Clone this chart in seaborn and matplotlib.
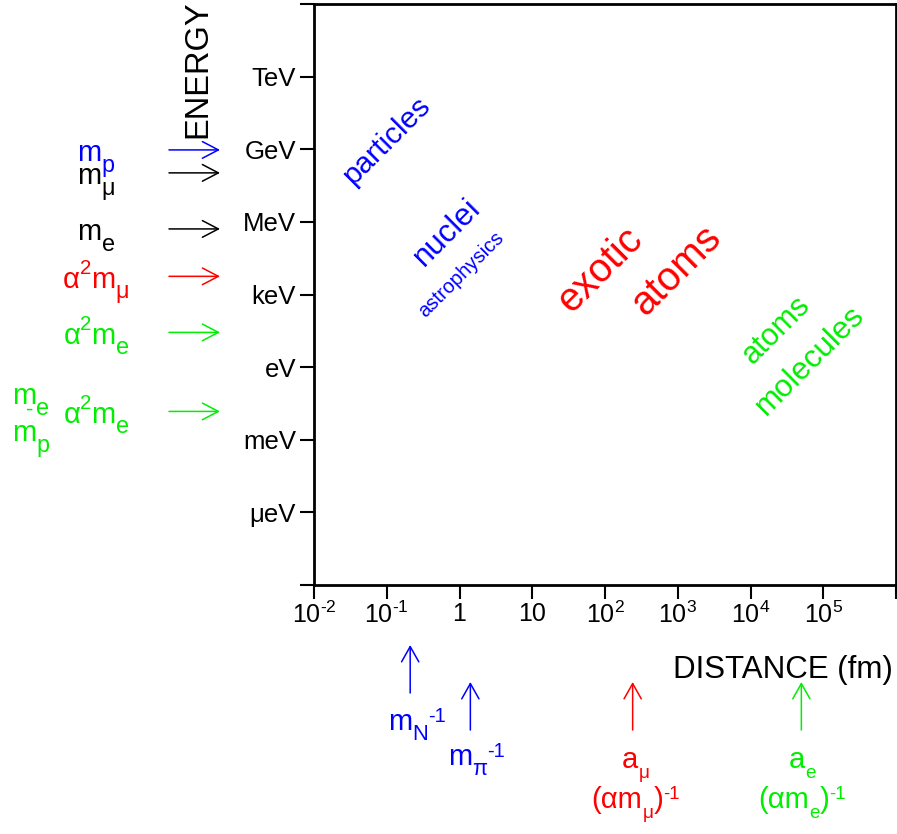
import matplotlib
matplotlib.use("Agg")
import matplotlib.pyplot as plt
from matplotlib.transforms import IdentityTransform
import seaborn as sns

sns.set_theme(style="ticks")
plt.rcParams["font.family"] = ["Liberation Sans", "DejaVu Sans"]
plt.rcParams["mathtext.fontset"] = "custom"
plt.rcParams["mathtext.rm"] = "Liberation Sans"
plt.rcParams["mathtext.it"] = "Liberation Sans"
plt.rcParams["mathtext.bf"] = "Liberation Sans:bold"
plt.rcParams["mathtext.default"] = "regular"
for k in ["text.color", "axes.labelcolor", "xtick.color", "ytick.color", "axes.edgecolor"]:
    plt.rcParams[k] = "black"

# ---------------- data ----------------
energy_ticks_eV = [1e-9, 1e-6, 1e-3, 1e0, 1e3, 1e6, 1e9, 1e12, 1e15]
energy_tick_labels = ["", "μeV", "meV", "eV", "keV", "MeV", "GeV", "TeV", ""]

distance_ticks_fm = [1e-2, 1e-1, 1e0, 1e1, 1e2, 1e3, 1e4, 1e5, 1e6]
distance_tick_labels = ["$10^{‐2}$", "$10^{‐1}$", "1", "10", "$10^{2}$",
                        "$10^{3}$", "$10^{4}$", "$10^{5}$", ""]

# energy scales marked by arrows at the left (eV)
scale_energy_eV = [938.3e6, 105.7e6, 0.511e6, 5.63e3, 27.2, 0.0148]
# label pieces: (text, relative size, vertical shift in em)
scale_energy_labels = [
    [("m", 1, 0), ("p", 0.8, -0.36)],
    [("m", 1, 0), ("μ", 0.8, -0.36)],
    [("m", 1, 0), ("e", 0.8, -0.36)],
    [("α", 1, 0), ("2", 0.7, 0.48), ("m", 1, 0), ("μ", 0.8, -0.36)],
    [("α", 1, 0), ("2", 0.7, 0.48), ("m", 1, 0), ("e", 0.8, -0.36)],
    [("α", 1, 0), ("2", 0.7, 0.48), ("m", 1, 0), ("e", 0.8, -0.36)],
]
scale_energy_colors = ["#0000ff", "#000000", "#000000", "#ff0000", "#00ee00", "#00ee00"]

# distance scales marked by arrows below (fm)
scale_distance_fm = [0.21, 1.41, 240.0, 5.0e4]
scale_distance_labels = [
    [[("m", 1, 0), ("N", 0.75, -0.34), ("-1", 0.68, 0.28)]],
    [[("m", 1, 0), ("π", 0.75, -0.34), ("-1", 0.68, 0.28)]],
    [[("a", 1, 0), ("μ", 0.65, -0.34)],
     [("(αm", 1, 0), ("μ", 0.65, -0.34), (")", 1, 0), ("-1", 0.64, 0.3)]],
    [[("a", 1, 0), ("e", 0.65, -0.34)],
     [("(αm", 1, 0), ("e", 0.65, -0.34), (")", 1, 0), ("-1", 0.64, 0.3)]],
]
scale_distance_colors = ["#0000ff", "#0000ff", "#ff0000", "#00ee00"]

region_labels = ["particles", "nuclei", "astrophysics", "exotic", "atoms",
                 "atoms", "molecules"]
region_colors = ["#0000ff", "#0000ff", "#0000ff", "#ff0000", "#ff0000",
                 "#00ee00", "#00ee00"]

# ---------------- figure ----------------
W, H = 897, 834
fig = plt.figure(figsize=(W / 100, H / 100), dpi=100)
ax = fig.add_axes([314 / W, (H - 585) / H, (896 - 314) / W, (585 - 4) / H])
ax.set_facecolor("white")
ax.set_xscale("log")
ax.set_yscale("log")
ax.set_xlim(distance_ticks_fm[0], distance_ticks_fm[-1])
ax.set_ylim(energy_ticks_eV[0], energy_ticks_eV[-1])
ax.set_xticks(distance_ticks_fm)
ax.set_xticklabels(distance_tick_labels)
ax.set_yticks(energy_ticks_eV)
ax.set_yticklabels(energy_tick_labels)
ax.minorticks_off()
sns.despine(ax=ax, top=False, right=False)
for s in ax.spines.values():
    s.set_linewidth(2.0)
    s.set_color("black")
ax.tick_params(axis="both", direction="out", length=10, width=1.5,
               color="black", labelcolor="black")
ax.tick_params(axis="y", labelsize=18.5, pad=3)
ax.tick_params(axis="x", labelsize=18, pad=2)
ax.grid(False)

renderer = fig.canvas.get_renderer()
PX_PER_PT = 100 / 72


def rich_text(x_px, y_px, parts, color, size, ha="center"):
    """Draw text made of pieces with their own size / baseline shift.
    x_px, y_px are display pixels (origin bottom-left); y_px is the baseline."""
    em = size * PX_PER_PT
    items, cur = [], 0.0
    for txt, rel, shift in parts:
        t = fig.text(0, 0, txt, fontsize=size * rel, color=color, ha="left",
                     va="baseline", transform=IdentityTransform())
        w = t.get_window_extent(renderer).width
        items.append((t, cur, shift * em))
        cur += w
    start = x_px - cur / 2 if ha == "center" else x_px
    for t, off, dy in items:
        t.set_position((start + off, y_px + dy))


# axis titles
fig.text(198 / W, 1 - 69 / H, "ENERGY", rotation=90, ha="center", va="center",
         fontsize=23.5, color="black")
fig.text(893 / W, 1 - 678 / H, "DISTANCE (fm)", ha="right", va="baseline",
         fontsize=22.5, color="black")

# energy-scale arrows on the left
for e, parts, c in zip(scale_energy_eV, scale_energy_labels, scale_energy_colors):
    ax.annotate("", xy=(220, e), xytext=(169, e),
                xycoords=("figure pixels", "data"),
                textcoords=("figure pixels", "data"),
                arrowprops=dict(arrowstyle="->,head_length=1.15,head_width=0.6",
                                color=c, lw=1.1, shrinkA=0, shrinkB=0,
                                mutation_scale=10),
                annotation_clip=False)
    ypix = ax.transData.transform((1.0, e))[1]
    rich_text(96, ypix - 11.5, parts, c, 21)

# the m_e / m_p fraction in front of the last label
ylast = ax.transData.transform((1.0, scale_energy_eV[-1]))[1]
rich_text(12, ylast + 7, [("m", 1, 0), ("e", 0.8, -0.36)], "#00ee00", 21, ha="left")
rich_text(26, ylast - 4, [("-", 0.75, 0)], "#00ee00", 21, ha="left")
rich_text(12, ylast - 30, [("m", 1, 0), ("p", 0.8, -0.36)], "#00ee00", 21, ha="left")

# distance-scale arrows below
arrow_rows = [(645, 693), (682, 730), (682, 730), (682, 730)]
label_rows = [[730], [765], [768, 808], [768, 808]]
label_dx = [7, 6, 3, 1]
for d, lines, c, (ytip, ybase), ys, dx in zip(scale_distance_fm, scale_distance_labels,
                                             scale_distance_colors, arrow_rows,
                                             label_rows, label_dx):
    ax.annotate("", xy=(d, H - ytip), xytext=(d, H - ybase),
                xycoords=("data", "figure pixels"),
                textcoords=("data", "figure pixels"),
                arrowprops=dict(arrowstyle="->,head_length=1.1,head_width=0.62",
                                color=c, lw=1.1, shrinkA=0, shrinkB=0,
                                mutation_scale=10),
                annotation_clip=False)
    xpix = ax.transData.transform((d, 1.0))[0]
    for parts, yl in zip(lines, ys):
        rich_text(xpix + dx, H - yl, parts, c, 21)

# region labels inside the plot (axes fraction positions)
region_pos = [(0.125, 0.765), (0.229, 0.606), (0.253, 0.535), (0.491, 0.542),
              (0.622, 0.542), (0.794, 0.439), (0.852, 0.387)]
region_size = [21.5, 22.5, 14.5, 28.5, 29, 22, 22.5]
for lab, c, (px, py), fs in zip(region_labels, region_colors, region_pos, region_size):
    ax.text(px, py, lab, transform=ax.transAxes, rotation=45,
            rotation_mode="anchor", ha="center", va="center",
            fontsize=fs, color=c)

fig.savefig("out.png", dpi=100, facecolor="white")
